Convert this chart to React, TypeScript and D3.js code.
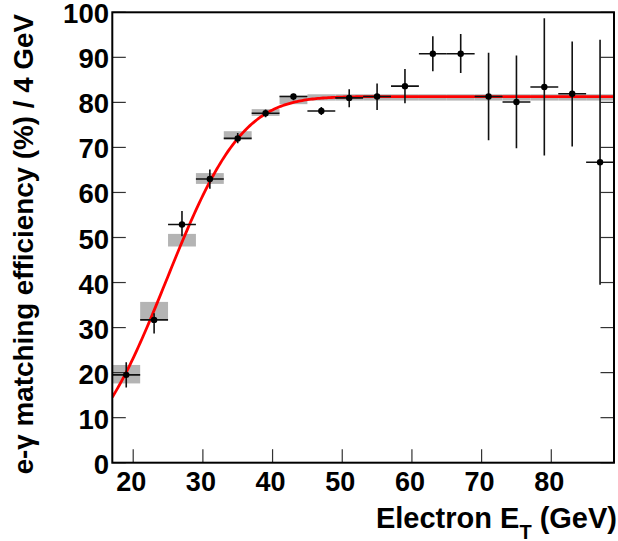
import React, { useEffect } from "react";
import * as d3 from "d3";

// ---- data ----
const binCenters = [19, 23, 27, 31, 35, 39, 43, 47, 51, 55, 59, 63, 67, 71, 75, 79, 83, 87];
const efficiency = [19.5, 31.7, 52.9, 63.0, 72.0, 77.6, 81.3, 78.1, 81.0, 81.3, 83.6, 90.8, 90.8, 81.3, 80.1, 83.4, 81.9, 66.7];
const errLow = [16.7, 28.7, 50.3, 60.8, 70.9, 76.7, 80.5, 77.2, 78.9, 78.3, 79.8, 86.9, 86.5, 71.6, 69.8, 68.2, 70.2, 39.5];
const errHigh = [22.3, 33.2, 55.9, 65.1, 73.2, 78.4, 81.9, 79.0, 82.9, 84.2, 87.4, 94.7, 95.2, 91.0, 90.4, 98.7, 93.5, 93.9];
const boxLow = [17.6, 31.7, 48.0, 61.9, 71.8, 77.0, 79.6, 80.4, 80.4, 80.4, 80.4, 80.4, 80.4, 80.4, 80.4, 80.4, 80.4, 80.4];
const boxHigh = [21.7, 35.7, 50.8, 64.3, 73.6, 78.5, 81.5, 81.8, 81.8, 81.8, 81.8, 81.8, 81.8, 81.8, 81.8, 81.8, 81.8, 81.8];
const binHalfWidth = 2;

const xTicks = [20, 30, 40, 50, 60, 70, 80];
const yTicks = [0, 10, 20, 30, 40, 50, 60, 70, 80, 90, 100];

// turn-on fit: A/2 * (1 + erf((x - mu) / sigma))
const fitPlateau = 81.3;
const fitMu = 24.8;
const fitSigma = 12.0;

function erf(x: number): number {
  const s = x < 0 ? -1 : 1;
  const ax = Math.abs(x);
  const t = 1 / (1 + 0.3275911 * ax);
  const y =
    1 -
    ((((1.061405429 * t - 1.453152027) * t + 1.421413741) * t - 0.284496736) * t + 0.254829592) *
      t *
      Math.exp(-ax * ax);
  return s * y;
}
const fitFn = (x: number) => (fitPlateau / 2) * (1 + erf((x - fitMu) / fitSigma));

const W = 618;
const H = 541;
const L = 112.3;
const R = 614;
const T = 12.3;
const B = 462.7;
const FONT = "'Liberation Sans', Arial, Helvetica, sans-serif";

export default function App() {
  useEffect(() => {
    document.body.style.margin = "0";
  }, []);

  const x = d3.scaleLinear().domain([17, 89]).range([L, R]);
  const y = d3.scaleLinear().domain([0, 100]).range([B, T]);

  const curveX = d3.range(17, 89.01, 0.25);
  const line = d3
    .line<number>()
    .x((d) => x(d))
    .y((d) => y(fitFn(d)));

  const tickLen = 13.5;

  return (
    <svg
      width={W}
      height={H}
      style={{ position: "absolute", left: 0, top: 0, background: "#fff" }}
      fontFamily={FONT}
    >
      <rect x={0} y={0} width={W} height={H} fill="#fff" />
      <defs>
        <clipPath id="plot">
          <rect x={L} y={T} width={R - L} height={B - T} />
        </clipPath>
      </defs>

      {/* systematic boxes */}
      <g clipPath="url(#plot)">
        {binCenters.map((c, i) => (
          <rect
            key={"b" + i}
            x={x(c - binHalfWidth)}
            y={y(boxHigh[i])}
            width={x(c + binHalfWidth) - x(c - binHalfWidth)}
            height={y(boxLow[i]) - y(boxHigh[i])}
            fill="#b4b4b4"
          />
        ))}
      </g>

      {/* ticks */}
      {xTicks.map((t) => (
        <line key={"xt" + t} x1={x(t)} x2={x(t)} y1={B} y2={B - tickLen} stroke="#333" strokeWidth={1.2} />
      ))}
      {yTicks.map((t) => (
        <g key={"yt" + t}>
          <line x1={L} x2={L + tickLen} y1={y(t)} y2={y(t)} stroke="#333" strokeWidth={1.2} />
          <line x1={R - tickLen} x2={R} y1={y(t)} y2={y(t)} stroke="#333" strokeWidth={1.2} />
        </g>
      ))}

      {/* fit curve */}
      <g clipPath="url(#plot)">
        <path d={line(curveX) || ""} fill="none" stroke="#ff0000" strokeWidth={2.8} />
      </g>

      {/* data points with error bars */}
      <g clipPath="url(#plot)">
        {binCenters.map((c, i) => (
          <g key={"p" + i} stroke="#111" strokeWidth={1.6}>
            <line x1={x(c)} x2={x(c)} y1={y(errLow[i])} y2={y(errHigh[i])} />
            <line x1={x(c - binHalfWidth)} x2={x(c + binHalfWidth)} y1={y(efficiency[i])} y2={y(efficiency[i])} />
            <circle cx={x(c)} cy={y(efficiency[i])} r={3.2} fill="#000" stroke="none" />
          </g>
        ))}
      </g>

      {/* frame */}
      <rect x={L} y={T} width={R - L} height={B - T} fill="none" stroke="#000" strokeWidth={2} />

      {/* tick labels */}
      {xTicks.map((t) => (
        <text key={"xl" + t} x={x(t) - 2} y={491} textAnchor="middle" fontSize={27} fontWeight="bold" fill="#000">
          {t}
        </text>
      ))}
      {yTicks.map((t) => (
        <text key={"yl" + t} x={109} y={y(t) + 11} textAnchor="end" fontSize={27.5} fontWeight="bold" fill="#000">
          {t}
        </text>
      ))}

      {/* axis titles */}
      <text x={617} y={527.5} textAnchor="end" fontSize={29} fontWeight="bold" fill="#000">
        Electron E
        <tspan fontSize={20} dy={11}>T</tspan>
        <tspan dy={-11}> (GeV)</tspan>
      </text>
      <text
        transform="translate(32.7,14) rotate(-90)"
        textAnchor="end"
        fontSize={27.8}
        fontWeight="bold"
        fill="#000"
      >
        e-γ matching efficiency (%) / 4 GeV
      </text>
    </svg>
  );
}
